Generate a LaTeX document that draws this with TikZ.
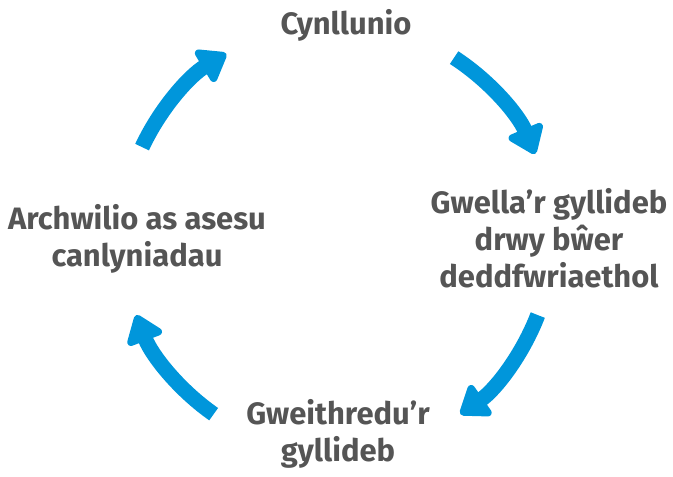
\documentclass[tikz,border=0pt]{standalone}
\usepackage{fontspec}
\setmainfont{Fira Sans}
\usetikzlibrary{arrows.meta}
\definecolor{cycleblue}{RGB}{0,150,219}
\definecolor{labelgrey}{RGB}{85,85,85}
\tikzset{
  stage/.style={align=center, text=labelgrey, inner sep=0pt,
    font=\fontsize{22}{26.5}\selectfont\bfseries},
  turn/.style={draw=cycleblue, line width=0.38cm,
    -{Triangle[width=1.05cm,length=0.75cm,round]}}
}

\begin{document}
\begin{tikzpicture}[x=0.025cm,y=0.025cm]
        \useasboundingbox (0,0) rectangle (673,476);
        \coordinate (hub) at (337,238);
        % the four stages
        \node[stage] (plan) at (346,451) {Cynllunio};
        \node[stage] (improve) at (549,238) {Gwella’r gyllideb\\drwy bŵer\\deddfwriaethol};
        \node[stage] (deliver) at (338,42) {Gweithredu’r\\gyllideb};
        \node[stage] (review) at (137,237) {Archwilio as asesu\\canlyniadau};
        % arrow ends on the circle
        \coordinate (plan-out) at ([shift={(57:5.375cm)}]hub);
        \coordinate (improve-out) at ([shift={(-21:5.375cm)}]hub);
        \coordinate (deliver-out) at ([shift={(-125:5.375cm)}]hub);
        \coordinate (review-out) at ([shift={(155:5.375cm)}]hub);
        \draw[turn] (plan-out) arc[start angle=57,end angle=23,radius=5.375cm];
        \draw[turn] (improve-out) arc[start angle=-21,end angle=-55,radius=5.375cm];
        \draw[turn] (deliver-out) arc[start angle=-125,end angle=-159,radius=5.375cm];
        \draw[turn] (review-out) arc[start angle=155,end angle=121,radius=5.375cm];
    \end{tikzpicture}
\end{document}
